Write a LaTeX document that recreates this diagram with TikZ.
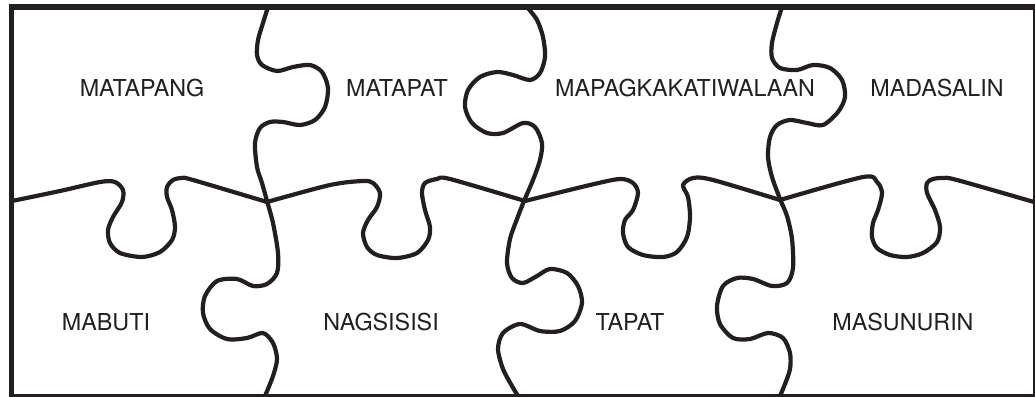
\documentclass[tikz,border=0pt]{standalone}
\usepackage{fontspec}
\setmainfont{TeX Gyre Heros}
\definecolor{ink}{HTML}{231F20}
\begin{document}
\begin{tikzpicture}[x=1pt,y=-1pt,
  cut/.style={draw=ink,line width=4.2pt,line cap=round,line join=round},
  lbl/.style={text=ink,font=\fontsize{23.3}{26}\selectfont,inner sep=0pt,anchor=center}]
\useasboundingbox (0,0) rectangle (1035,396);
\fill[white] (0,0) rectangle (1035,396);
% horizontal seam
\draw[cut] plot[smooth] coordinates {(12,201) (60,191) (100,182) (115,182) (123,190) (122,202) (113,217) (108,230) (110,243) (120,253) (142,257) (160,252) (172,240) (175,227) (172,210) (167,197) (167,187) (173,180) (182,178) (193,180) (267,202)};
\draw[cut] plot[smooth] coordinates {(267,202) (330,185) (363,181) (373,183) (380,193) (377,207) (368,220) (363,233) (367,247) (377,255) (397,258) (417,253) (428,240) (430,227) (425,210) (422,193) (425,183) (437,179) (450,179) (525,201)};
\draw[cut] plot[smooth] coordinates {(525,201) (590,185) (620,179) (633,183) (638,193) (633,210) (625,220) (623,233) (628,247) (643,255) (663,257) (677,252) (687,237) (690,217) (688,197) (683,185) (693,178) (713,180) (780,200)};
\draw[cut] plot[smooth] coordinates {(780,200) (863,177) (877,182) (882,193) (878,210) (873,223) (872,237) (877,248) (890,255) (907,257) (923,253) (937,242) (940,227) (935,210) (927,193) (927,183) (933,179) (943,178) (957,180) (1034,202)};
% vertical seam 1
\draw[cut] plot[smooth] coordinates {(268,7) (263,23) (258,40) (257,55) (262,65) (277,71) (293,67) (310,65) (322,72) (328,88) (325,107) (315,120) (300,125) (283,122) (270,122) (260,128) (255,143) (257,167) (262,183) (267,201) (273,223) (278,253) (277,273) (267,284) (253,286) (237,279) (217,281) (205,296) (203,313) (210,329) (227,339) (247,338) (263,333) (273,343) (277,359) (273,376) (265,396)};
% vertical seam 2
\draw[cut] plot[smooth] coordinates {(527,7) (537,20) (543,37) (545,57) (540,73) (530,80) (513,75) (497,72) (480,77) (468,90) (465,107) (472,123) (487,133) (503,133) (523,123) (535,127) (542,143) (540,160) (533,180) (524,201) (517,219) (510,239) (507,263) (512,278) (523,283) (537,276) (550,269) (567,273) (578,286) (582,303) (575,321) (560,331) (540,331) (520,324) (503,333) (498,349) (503,369) (512,386) (518,396)};
% vertical seam 3
\draw[cut] plot[smooth] coordinates {(782,7) (777,23) (772,43) (772,58) (780,68) (797,70) (813,65) (830,68) (842,80) (845,97) (838,112) (823,125) (807,123) (790,120) (777,125) (770,137) (768,157) (772,177) (780,199) (787,216) (792,239) (793,268) (787,283) (772,286) (753,279) (737,278) (723,286) (717,306) (720,324) (733,338) (750,339) (768,333) (783,338) (790,353) (790,369) (785,384) (780,396)};
% border
\draw[draw=ink,line width=5.2pt] (11.2,7) rectangle (1035.6,396.4);
% labels
\node[lbl] (t1) at (142,88) {MATAPANG};
\node[lbl] (t2) at (397,88) {MATAPAT};
\node[lbl] (t3) at (685,88) {MAPAGKAKATIWALAAN};
\node[lbl] (t4) at (937,88) {MADASALIN};
\node[lbl] (b1) at (106,322) {MABUTI};
\node[lbl] (b2) at (381,322) {NAGSISISI};
\node[lbl] (b3) at (630,322) {TAPAT};
\node[lbl] (b4) at (903,322) {MASUNURIN};
\end{tikzpicture}
\end{document}
